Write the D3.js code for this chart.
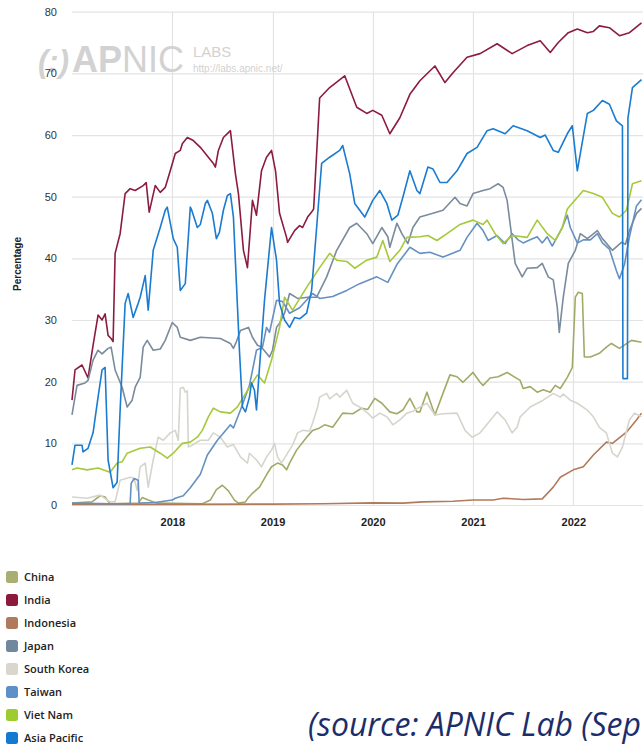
<!DOCTYPE html>
<html>
<head>
<meta charset="utf-8">
<script src="https://cdn.jsdelivr.net/npm/d3@7"></script>
<style>
  html, body { margin: 0; padding: 0; background: #fff; overflow: hidden; }
  svg { display: block; }
</style>
</head>
<body>
<svg id="chart" width="643" height="746"></svg>
<script>
// ---------- DATA ----------
const seriesNames = ["China", "India", "Indonesia", "Japan", "South Korea", "Taiwan", "Viet Nam", "Asia Pacific"];
const yTicks = [0, 10, 20, 30, 40, 50, 60, 70, 80];
const xTicks = [2018, 2019, 2020, 2021, 2022];
const yAxisTitle = "Percentage";
const sourceText = "(source: APNIC Lab (Sep";

const china = [[2017.00,0.3],[2017.20,0.5],[2017.28,1.5],[2017.33,1.3],[2017.38,0.2],[2017.66,0.3],[2017.70,1.2],[2017.76,0.8],[2017.85,0.3],[2018.30,0.2],[2018.38,0.8],[2018.44,2.5],[2018.50,3.2],[2018.56,2.3],[2018.62,0.8],[2018.66,0.3],[2018.73,0.5],[2018.75,1],[2018.80,1.9],[2018.87,2.9],[2018.94,4.9],[2018.99,6.2],[2019.05,6.8],[2019.10,6.5],[2019.14,5.7],[2019.17,6.8],[2019.24,8.9],[2019.34,11],[2019.40,12.1],[2019.47,12.5],[2019.52,13],[2019.60,12.6],[2019.70,14.9],[2019.80,14.8],[2019.89,15.7],[2019.95,15.5],[2020.02,17.3],[2020.09,16.5],[2020.17,15.1],[2020.24,14.8],[2020.30,15.4],[2020.37,17.3],[2020.44,15.1],[2020.47,15.1],[2020.54,18.3],[2020.62,14.6],[2020.70,18.1],[2020.77,21.1],[2020.84,20.8],[2020.90,19.9],[2021.00,21.5],[2021.07,19.9],[2021.10,19.4],[2021.17,20.6],[2021.25,20.8],[2021.34,21.5],[2021.42,20.7],[2021.47,20.2],[2021.50,18.9],[2021.57,19.2],[2021.64,18.3],[2021.70,18.7],[2021.77,18.3],[2021.82,19.4],[2021.87,18.9],[2021.94,20.7],[2021.99,22.3],[2022.02,33.7],[2022.05,34.5],[2022.09,34.3],[2022.11,24],[2022.17,24],[2022.26,24.6],[2022.33,25.6],[2022.38,26.2],[2022.46,25.4],[2022.58,26.7],[2022.68,26.4]];

const india = [[2017.00,17],[2017.03,21.9],[2017.10,22.7],[2017.16,20.6],[2017.21,25.9],[2017.26,30.8],[2017.30,30],[2017.33,31],[2017.36,27.5],[2017.39,27],[2017.41,26.5],[2017.43,40.8],[2017.48,44],[2017.53,50.5],[2017.58,51.3],[2017.63,51],[2017.71,51.8],[2017.74,52.3],[2017.77,47.5],[2017.83,51.8],[2017.88,50.7],[2017.93,51.5],[2017.98,54.2],[2018.03,57],[2018.08,57.5],[2018.10,58.6],[2018.15,59.6],[2018.21,59.1],[2018.28,58],[2018.36,56.4],[2018.41,55.4],[2018.43,54.8],[2018.46,57.5],[2018.51,59.6],[2018.56,60.4],[2018.58,60.7],[2018.63,53.7],[2018.66,50.5],[2018.71,41.3],[2018.75,38.5],[2018.80,49.4],[2018.84,47],[2018.89,54.2],[2018.94,56.4],[2018.99,57.5],[2019.03,54.2],[2019.07,47.3],[2019.14,43.4],[2019.15,42.6],[2019.22,44.5],[2019.27,45.3],[2019.30,45],[2019.35,46.7],[2019.39,47.5],[2019.41,48],[2019.45,60],[2019.47,66],[2019.57,67.7],[2019.72,69.6],[2019.84,64.5],[2019.94,63.5],[2020.00,64],[2020.09,63.2],[2020.17,60.2],[2020.27,62.8],[2020.37,66.6],[2020.47,68.8],[2020.62,71.2],[2020.72,68.5],[2020.80,70.1],[2020.94,72.6],[2021.07,73.2],[2021.24,74.8],[2021.39,73.2],[2021.54,74.5],[2021.67,75.3],[2021.77,73.4],[2021.85,75],[2021.95,76.6],[2022.04,77.2],[2022.14,76.6],[2022.20,76.8],[2022.26,77.7],[2022.36,77.4],[2022.46,76.1],[2022.56,76.6],[2022.68,78.2]];

const indonesia = [[2017.00,0.1],[2018.00,0.1],[2019.00,0.15],[2019.50,0.2],[2020.00,0.35],[2020.30,0.3],[2020.50,0.5],[2020.80,0.6],[2021.00,0.8],[2021.20,0.8],[2021.30,1.1],[2021.50,0.9],[2021.69,1.0],[2021.80,2.9],[2021.87,4.5],[2022.00,5.7],[2022.10,6.2],[2022.20,8.1],[2022.33,10.2],[2022.39,10],[2022.53,11.8],[2022.63,13.8],[2022.68,14.9]];

const japan = [[2017.00,14.6],[2017.05,19.4],[2017.13,19.8],[2017.16,20.2],[2017.21,23.5],[2017.26,25.1],[2017.30,24.5],[2017.36,25.4],[2017.39,25.6],[2017.43,21.9],[2017.50,19.1],[2017.55,15.9],[2017.60,17],[2017.63,19.1],[2017.68,20.7],[2017.71,25.6],[2017.75,26.7],[2017.81,25.1],[2017.88,25.3],[2017.93,26.7],[2018.00,29.6],[2018.05,28.8],[2018.08,27.2],[2018.18,26.7],[2018.28,27.2],[2018.48,27],[2018.58,26.2],[2018.61,25.4],[2018.64,26.5],[2018.68,28.3],[2018.76,28.8],[2018.80,27.2],[2018.85,25.9],[2018.89,25.6],[2018.94,24.6],[2018.97,24],[2019.00,25.1],[2019.04,28.8],[2019.07,29.5],[2019.12,31.1],[2019.17,34.3],[2019.25,33.5],[2019.35,33.7],[2019.44,33.7],[2019.54,37],[2019.64,41.3],[2019.77,45],[2019.84,45.7],[2019.94,44],[2020.00,42.4],[2020.09,45],[2020.15,43.5],[2020.17,41.8],[2020.24,45.7],[2020.29,44],[2020.35,42.4],[2020.40,45],[2020.47,46.7],[2020.60,47.3],[2020.70,47.8],[2020.82,49.9],[2020.87,48.9],[2020.94,48.5],[2021.00,50.5],[2021.10,51],[2021.17,51.3],[2021.25,52.1],[2021.30,51.5],[2021.34,49.4],[2021.42,39.2],[2021.49,37],[2021.54,38.4],[2021.64,38.5],[2021.69,39.2],[2021.75,37],[2021.80,36.5],[2021.84,32.1],[2021.86,28],[2021.90,33.7],[2021.95,39.2],[2022.02,41.3],[2022.07,44],[2022.14,43.2],[2022.24,44.5],[2022.29,43.2],[2022.39,41.3],[2022.48,42.6],[2022.52,42.3],[2022.56,44.5],[2022.63,47.3],[2022.68,48.1]];

const southKorea = [[2017.00,1.3],[2017.15,1.1],[2017.28,1.6],[2017.38,0.5],[2017.43,0.5],[2017.48,4],[2017.58,4.5],[2017.62,4.3],[2017.65,2.4],[2017.68,6.2],[2017.73,6.8],[2017.76,2.9],[2017.81,7.3],[2017.86,11],[2017.91,10.5],[2017.98,11.7],[2018.03,12.1],[2018.06,10.5],[2018.08,18.9],[2018.11,19.1],[2018.13,18.3],[2018.15,18.5],[2018.16,9.4],[2018.19,9.6],[2018.28,10.5],[2018.36,10.5],[2018.41,11.7],[2018.48,11],[2018.55,9.4],[2018.61,9.8],[2018.68,7.8],[2018.75,6.8],[2018.77,8.4],[2018.84,7.3],[2018.89,6.2],[2018.94,7.8],[2018.99,8.9],[2019.02,10],[2019.05,7.8],[2019.09,6.8],[2019.15,8.4],[2019.20,9.7],[2019.25,11.7],[2019.30,12.1],[2019.37,12],[2019.40,13.3],[2019.45,15.9],[2019.47,17.5],[2019.54,18.1],[2019.57,17.2],[2019.64,18.1],[2019.67,17.5],[2019.74,18.6],[2019.80,16.5],[2019.87,15.9],[2019.95,14.9],[2020.00,14.1],[2020.07,14.9],[2020.14,14.3],[2020.20,13],[2020.27,13.8],[2020.34,14.9],[2020.40,15.2],[2020.47,15.9],[2020.54,16.5],[2020.62,14.6],[2020.70,14.8],[2020.84,14.9],[2020.92,12.1],[2020.99,11],[2021.07,11.7],[2021.15,13.3],[2021.24,15.1],[2021.32,13.8],[2021.39,11.7],[2021.44,12.6],[2021.47,14.3],[2021.57,15.9],[2021.70,17],[2021.80,18.1],[2021.87,17.5],[2021.90,18],[2021.97,17],[2022.04,16.5],[2022.14,15.4],[2022.20,14.3],[2022.26,12.6],[2022.33,11.7],[2022.39,8.4],[2022.44,7.8],[2022.49,9.4],[2022.56,13.8],[2022.61,14.9],[2022.68,14.3]];

const taiwan = [[2017.00,0.3],[2017.40,0.2],[2017.58,0.2],[2017.59,3.5],[2017.62,4.3],[2017.66,4],[2017.67,0.3],[2017.83,0.4],[2018.00,0.8],[2018.03,1.1],[2018.11,1.5],[2018.18,2.8],[2018.28,5],[2018.35,8.1],[2018.45,10.5],[2018.58,13],[2018.61,12.5],[2018.68,15.4],[2018.77,19.4],[2018.84,25.1],[2018.90,25.6],[2018.94,28.8],[2018.97,28],[2019.04,33.2],[2019.10,33],[2019.17,31.1],[2019.27,32],[2019.40,34.3],[2019.47,33.5],[2019.60,33.8],[2019.74,34.8],[2019.87,35.9],[2020.04,37],[2020.15,36.1],[2020.24,39],[2020.37,41.8],[2020.47,40.8],[2020.57,41],[2020.70,40.2],[2020.87,41.3],[2020.94,43.4],[2021.04,45.7],[2021.10,44.5],[2021.15,42.9],[2021.24,43.7],[2021.32,42.4],[2021.39,44],[2021.45,43],[2021.50,42.5],[2021.57,43],[2021.64,43.5],[2021.69,42.5],[2021.74,43.5],[2021.79,42],[2021.84,43.5],[2021.89,45],[2021.94,47],[2021.97,45],[2022.04,42.5],[2022.10,43],[2022.17,43],[2022.24,44],[2022.29,42.5],[2022.36,41.5],[2022.43,38],[2022.46,36.7],[2022.51,39],[2022.56,43.5],[2022.63,48.5],[2022.68,49.5]];

const vietNam = [[2017.00,5.7],[2017.05,6],[2017.15,5.7],[2017.26,6],[2017.38,5.3],[2017.45,6.8],[2017.50,7],[2017.55,8.4],[2017.68,9.2],[2017.78,9.4],[2017.88,8.4],[2017.95,7.6],[2018.01,8.4],[2018.10,10],[2018.18,10.2],[2018.25,11],[2018.30,12.1],[2018.36,14.3],[2018.41,15.7],[2018.48,15.1],[2018.58,14.9],[2018.65,15.9],[2018.71,17.5],[2018.77,19.1],[2018.85,21.1],[2018.92,19.8],[2018.99,23.5],[2019.07,28.8],[2019.12,33.7],[2019.20,31.6],[2019.34,35.3],[2019.47,38.5],[2019.57,40.8],[2019.64,39.7],[2019.74,39.5],[2019.82,38.4],[2019.94,39.7],[2020.04,40.2],[2020.10,42.9],[2020.17,39.5],[2020.27,41.3],[2020.34,43.4],[2020.47,43.5],[2020.55,43.7],[2020.64,42.9],[2020.74,44],[2020.87,45.5],[2021.00,46.2],[2021.10,45.5],[2021.14,46.2],[2021.22,44],[2021.30,42.4],[2021.39,43.7],[2021.54,43.4],[2021.64,46.2],[2021.74,44],[2021.82,42.9],[2021.89,45],[2021.94,48],[2022.10,51],[2022.20,50.5],[2022.29,49.9],[2022.39,47.3],[2022.46,46.7],[2022.53,47.8],[2022.59,52.1],[2022.68,52.6]];

const asiaPacific = [[2017.00,6.5],[2017.03,9.7],[2017.10,9.7],[2017.11,8.6],[2017.16,9.2],[2017.21,11.7],[2017.26,17.5],[2017.30,21.9],[2017.33,22.3],[2017.36,7.3],[2017.41,2.8],[2017.45,3.7],[2017.48,15.4],[2017.53,32.7],[2017.56,34.3],[2017.61,30.4],[2017.66,32.7],[2017.68,33.7],[2017.73,37.2],[2017.76,31.6],[2017.81,41.3],[2017.88,45],[2017.93,47.8],[2017.95,48.3],[2018.01,43.2],[2018.05,41.8],[2018.08,34.8],[2018.13,35.9],[2018.15,41],[2018.18,48.3],[2018.19,48],[2018.25,45],[2018.28,45.5],[2018.33,48.9],[2018.35,49.4],[2018.40,47.3],[2018.44,43.2],[2018.47,44.2],[2018.51,47.8],[2018.55,50.2],[2018.58,50.5],[2018.61,46.7],[2018.64,35.9],[2018.67,25.1],[2018.70,15.9],[2018.73,15.1],[2018.77,17.5],[2018.79,19.8],[2018.82,18.6],[2018.84,15.4],[2018.87,22.3],[2018.92,33.2],[2018.99,45],[2019.04,39.7],[2019.07,32.7],[2019.12,30],[2019.17,28.8],[2019.22,30.4],[2019.27,30.2],[2019.34,31.1],[2019.39,34.8],[2019.44,45],[2019.49,55.4],[2019.57,56.4],[2019.67,57.5],[2019.70,58.3],[2019.77,53.7],[2019.82,48.9],[2019.92,46.7],[2020.00,49.4],[2020.07,51],[2020.14,48.9],[2020.19,46.2],[2020.25,47],[2020.30,49.9],[2020.37,54.2],[2020.44,51],[2020.47,50.5],[2020.55,54.8],[2020.60,54.5],[2020.67,52.3],[2020.74,52.3],[2020.84,54.2],[2020.94,57],[2021.04,58],[2021.14,60.7],[2021.20,61],[2021.32,60.2],[2021.40,61.5],[2021.54,60.7],[2021.67,59.6],[2021.72,60],[2021.80,57.5],[2021.85,57.2],[2021.94,60.2],[2021.99,61.5],[2022.04,54.2],[2022.07,57],[2022.14,63.5],[2022.20,64],[2022.29,65.6],[2022.36,65],[2022.43,62.3],[2022.49,61.5],[2022.495,20.5],[2022.54,20.5],[2022.545,62.8],[2022.59,67.7],[2022.68,69]];

const seriesValues = [china, india, indonesia, japan, southKorea, taiwan, vietNam, asiaPacific];
const lineColors = ["#a3a968", "#8b1c3f", "#b27a5c", "#7a8b9d", "#d6d5cd", "#6690c2", "#a5c93a", "#1a7bd0"];
const legendColors = ["#a9ae72", "#8c1a3c", "#b07a5c", "#6f889e", "#d8d6cd", "#5e8fc6", "#9ecb30", "#1479d0"];

// ---------- DRAW ----------
const svg = d3.select("#chart");
const W = 643, H = 746;

const x = d3.scaleLinear().domain([2017, 2022.75]).range([72, 648.5]);
const y = d3.scaleLinear().domain([0, 80]).range([505, 11.7]);

svg.append("rect").attr("width", W).attr("height", H).attr("fill", "#fff");

// gridlines
const grid = svg.append("g");
grid.selectAll("line.h").data(yTicks).join("line")
  .attr("x1", x(2017)).attr("x2", W)
  .attr("y1", d => y(d) + 0.5).attr("y2", d => y(d) + 0.5)
  .attr("stroke", "#e3e3e3").attr("stroke-width", 1.2);
grid.selectAll("line.v").data(xTicks).join("line")
  .attr("x1", d => Math.round(x(d)) + 0.5).attr("x2", d => Math.round(x(d)) + 0.5)
  .attr("y1", y(80)).attr("y2", y(0))
  .attr("stroke", "#e3e3e3").attr("stroke-width", 1.2);

// watermark
const wm = svg.append("g").attr("fill", "#d2d2d2");
const logo = wm.append("text").attr("x", 38).attr("y", 72)
  .attr("font-family", "Liberation Sans, Arial, sans-serif").attr("font-size", 36);
logo.append("tspan").attr("font-weight", "bold").attr("font-style", "italic")
  .attr("font-size", 31).text("(:)");
logo.append("tspan").attr("font-weight", "bold").attr("dx", 3).text("AP");
logo.append("tspan").attr("font-weight", "normal").text("NIC");
wm.append("text").attr("x", 193).attr("y", 57)
  .attr("font-family", "Liberation Sans, Arial, sans-serif").attr("font-size", 15)
  .text("LABS");
wm.append("text").attr("x", 193).attr("y", 72)
  .attr("font-family", "Liberation Sans, Arial, sans-serif").attr("font-size", 10)
  .text("http://labs.apnic.net/");

// lines
const line = d3.line().x(d => x(d[0])).y(d => y(d[1]));
svg.append("g").selectAll("path").data(seriesValues).join("path")
  .attr("d", line)
  .attr("fill", "none")
  .attr("stroke", (d, i) => lineColors[i])
  .attr("stroke-width", 1.6)
  .attr("stroke-linejoin", "round");

// y axis labels
const yAxis = d3.axisLeft(y).tickValues(yTicks).tickSize(0).tickPadding(0);
const gy = svg.append("g").attr("transform", "translate(57,0)").call(yAxis);
gy.select(".domain").remove();
gy.selectAll("text").attr("font-family", "Liberation Sans, Arial, sans-serif")
  .attr("font-size", 11).attr("fill", "#333");

// x axis labels
const xAxis = d3.axisBottom(x).tickValues(xTicks).tickFormat(d3.format("d")).tickSize(0).tickPadding(0);
const gx = svg.append("g").attr("transform", "translate(0,518)").call(xAxis);
gx.select(".domain").remove();
gx.selectAll("text").attr("font-family", "Liberation Sans, Arial, sans-serif")
  .attr("font-size", 11).attr("font-weight", "bold").attr("fill", "#222");

// y axis title
svg.append("text")
  .attr("transform", "translate(21,264) rotate(-90)")
  .attr("text-anchor", "middle")
  .attr("font-family", "Liberation Sans, Arial, sans-serif")
  .attr("font-size", 10).attr("font-weight", "bold").attr("fill", "#222")
  .text(yAxisTitle);

// legend
const leg = svg.append("g");
const rows = leg.selectAll("g").data(seriesNames).join("g")
  .attr("transform", (d, i) => `translate(0,${577 + i * 23})`);
rows.append("rect").attr("x", 6).attr("y", -6).attr("width", 12).attr("height", 12)
  .attr("rx", 2.5).attr("fill", (d, i) => legendColors[i]);
rows.append("text").attr("x", 24).attr("y", 4)
  .attr("font-family", "Open Sans, sans-serif").attr("font-size", 11)
  .attr("font-weight", 600).attr("fill", "#222").text(d => d);

// source (the reference shows it cut at the right edge after "Sep")
svg.append("text").attr("x", 641).attr("y", 736)
  .attr("text-anchor", "end")
  .attr("font-family", "Open Sans, sans-serif").attr("font-size", 32)
  .attr("font-style", "italic").attr("fill", "#1c2e6a")
  .text(sourceText);
</script>
</body>
</html>
